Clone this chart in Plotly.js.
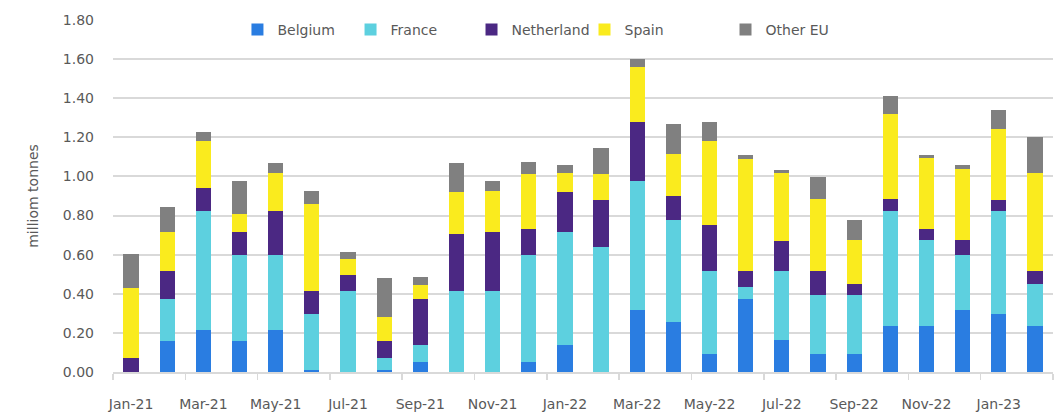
<!DOCTYPE html>
<html>
<head>
<meta charset="utf-8">
<script src="https://cdn.plot.ly/plotly-3.0.1.min.js"></script>
<style>html,body{margin:0;padding:0;background:#fff;}#chart{width:1061px;height:413px;}</style>
</head>
<body>
<div id="chart"></div>
<script>
const months = ["Jan-21","Feb-21","Mar-21","Apr-21","May-21","Jun-21","Jul-21","Aug-21","Sep-21","Oct-21","Nov-21","Dec-21",
  "Jan-22","Feb-22","Mar-22","Apr-22","May-22","Jun-22","Jul-22","Aug-22","Sep-22","Oct-22","Nov-22","Dec-22","Jan-23","Feb-23"];
const belgium    = [0, 0.157, 0.217, 0.157, 0.217, 0.01, 0, 0.01, 0.053, 0, 0, 0.053, 0.138, 0, 0.316, 0.256, 0.092, 0.374, 0.164, 0.092, 0.092, 0.237, 0.237, 0.316, 0.295, 0.237];
const france     = [0, 0.217, 0.604, 0.439, 0.379, 0.285, 0.413, 0.062, 0.085, 0.413, 0.413, 0.543, 0.577, 0.637, 0.661, 0.519, 0.427, 0.059, 0.355, 0.302, 0.302, 0.584, 0.439, 0.28, 0.526, 0.215];
const netherland = [0.074, 0.145, 0.118, 0.119, 0.225, 0.118, 0.085, 0.085, 0.236, 0.295, 0.302, 0.133, 0.203, 0.242, 0.302, 0.124, 0.235, 0.086, 0.15, 0.125, 0.058, 0.064, 0.053, 0.08, 0.058, 0.067];
const spain      = [0.358, 0.196, 0.242, 0.092, 0.196, 0.447, 0.079, 0.126, 0.071, 0.21, 0.21, 0.281, 0.099, 0.131, 0.282, 0.217, 0.427, 0.57, 0.348, 0.366, 0.224, 0.434, 0.366, 0.361, 0.362, 0.498];
const otherEU    = [0.17, 0.131, 0.046, 0.17, 0.053, 0.065, 0.039, 0.197, 0.041, 0.152, 0.052, 0.065, 0.039, 0.138, 0.039, 0.15, 0.098, 0.02, 0.014, 0.111, 0.099, 0.092, 0.014, 0.019, 0.097, 0.184];
const seriesNames = ["Belgium","France","Netherland","Spain","Other EU"];
const seriesData = [belgium, france, netherland, spain, otherEU];
const colors = ["#2A7DE1","#5DD0DF","#4B2883","#FAEB1E","#808080"];
const legendX = [0.1324, 0.2527, 0.3814, 0.5016, 0.6516];

const legendIds = ["legend","legend2","legend3","legend4","legend5"];
const traces = seriesNames.map((n,i)=>({
  type:"bar", name:n, x:months, y:seriesData[i],
  marker:{color:colors[i], line:{width:0}},
  legend:legendIds[i],
  hoverinfo:"x+y+name"
}));

const font = {family:"DejaVu Sans, sans-serif", size:14, color:"#595959"};
const layout = {
  width:1061, height:413,
  margin:{l:113, r:8, t:20, b:41},
  barmode:"stack", bargap:0.58,
  paper_bgcolor:"#fff", plot_bgcolor:"#fff",
  font:font,
  showlegend:true,
  xaxis:{type:"category", tickson:"boundaries", dtick:2, tick0:0, tickangle:0,
    ticks:"outside", ticklen:6, tickcolor:"#d9d9d9", tickwidth:1.5,
    showline:true, linecolor:"#d9d9d9", linewidth:2, showgrid:false,
    ticklabelstandoff:18, tickfont:font, range:[-0.5,25.5], fixedrange:true},
  yaxis:{range:[0,1.8], dtick:0.2, tickformat:".2f", showgrid:true, gridcolor:"#d9d9d9", gridwidth:2,
    zeroline:false, showline:false, ticks:"", ticklabelstandoff:18, tickfont:font,
    title:{text:"milliom tonnes", font:font, standoff:20}, fixedrange:true}
};
legendIds.forEach((id,i)=>{
  layout[id] = {orientation:"h", x:legendX[i], xanchor:"left", y:1.017, yanchor:"top",
    font:{family:font.family, size:14, color:"#595959"}, bgcolor:"rgba(0,0,0,0)"};
});
Plotly.newPlot("chart", traces, layout, {displayModeBar:false, staticPlot:true});
</script>
</body>
</html>
